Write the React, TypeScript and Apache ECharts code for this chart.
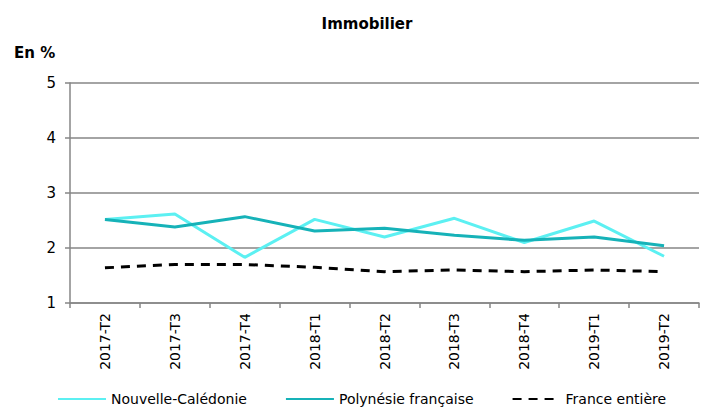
import React, { useEffect, useRef } from "react";
import * as echarts from "echarts";

const categories = ["2017-T2", "2017-T3", "2017-T4", "2018-T1", "2018-T2", "2018-T3", "2018-T4", "2019-T1", "2019-T2"];
const nouvelleCaledonie = [2.52, 2.62, 1.83, 2.52, 2.2, 2.54, 2.1, 2.49, 1.85];
const polynesie = [2.52, 2.38, 2.57, 2.31, 2.36, 2.23, 2.14, 2.2, 2.04];
const franceEntiere = [1.64, 1.7, 1.7, 1.65, 1.57, 1.6, 1.57, 1.6, 1.57];
const seriesNames = ["Nouvelle-Calédonie", "Polynésie française", "France entière"];

const FONT = "DejaVu Sans";
const GREY = "#868686";

export default function App() {
  const ref = useRef<HTMLDivElement>(null);
  useEffect(() => {
    if (!ref.current) return;
    const chart = echarts.init(ref.current, null, { renderer: "svg" });
    chart.setOption({
      animation: false,
      backgroundColor: "#ffffff",
      title: [
        {
          text: "Immobilier",
          left: 362,
          top: 11,
          textAlign: "center",
          textStyle: { fontFamily: FONT, fontWeight: "bold", fontSize: 15, color: "#000" },
        },
        {
          text: "En %",
          left: 9,
          top: 40,
          textStyle: { fontFamily: FONT, fontWeight: "bold", fontSize: 15, color: "#000" },
        },
      ],
      grid: { left: 70, right: 10, top: 83, bottom: 109, containLabel: false },
      xAxis: {
        type: "category",
        data: categories,
        boundaryGap: true,
        axisLine: { lineStyle: { color: GREY, width: 1.5 } },
        axisTick: { show: true, length: 5, lineStyle: { color: GREY, width: 1.5 } },
        axisLabel: { rotate: 90, margin: 10, fontFamily: FONT, fontSize: 14, color: "#000" },
      },
      yAxis: {
        type: "value",
        min: 1,
        max: 5,
        interval: 1,
        axisLine: { show: true, lineStyle: { color: GREY, width: 1.5 } },
        axisTick: { show: true, length: 5, lineStyle: { color: GREY, width: 1.5 } },
        axisLabel: { margin: 14, fontFamily: FONT, fontSize: 15, color: "#000" },
        splitLine: { show: true, lineStyle: { color: GREY, width: 1.5 } },
      },
      legend: {
        bottom: 1,
        left: 52,
        itemWidth: 48,
        itemHeight: 10,
        itemGap: 38,
        itemStyle: { opacity: 0 },
        textStyle: { fontFamily: FONT, fontSize: 14, color: "#000" },
        data: seriesNames,
      },
      series: [
        {
          name: seriesNames[0],
          type: "line",
          data: nouvelleCaledonie,
          symbol: "none",
          lineStyle: { color: "#5CF0F2", width: 3 },
          itemStyle: { color: "#5CF0F2" },
        },
        {
          name: seriesNames[1],
          type: "line",
          data: polynesie,
          symbol: "none",
          lineStyle: { color: "#16B2B8", width: 3 },
          itemStyle: { color: "#16B2B8" },
        },
        {
          name: seriesNames[2],
          type: "line",
          data: franceEntiere,
          symbol: "none",
          lineStyle: { color: "#000000", width: 3, type: [9, 7] },
          itemStyle: { color: "#000000" },
        },
      ],
    });
    return () => chart.dispose();
  }, []);
  return <div ref={ref} style={{ width: 709, height: 412, position: "absolute", left: 0, top: 0 }} />;
}
